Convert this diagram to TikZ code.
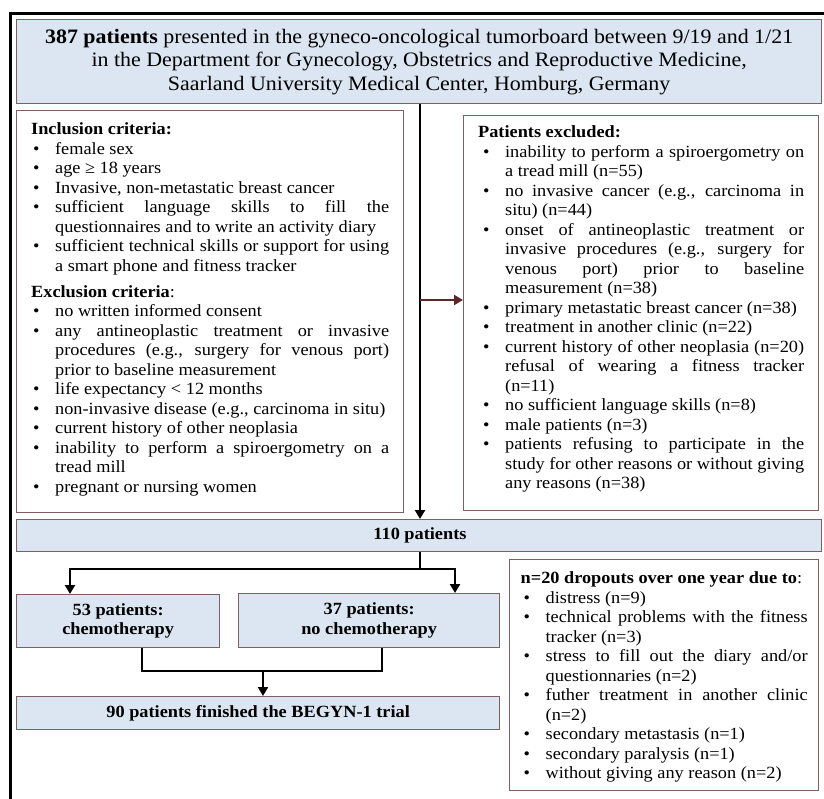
\documentclass[tikz,border=0pt]{standalone}
\usepackage{fontspec}
\setmainfont{Liberation Serif}[FakeStretch=1.07]
\usetikzlibrary{arrows.meta}
\definecolor{boxfill}{HTML}{DCE6F2}
\definecolor{boxline}{RGB}{125,96,96}
\definecolor{exarrow}{RGB}{90,40,40}
\newenvironment{blist}[2]{\begin{list}{\textbullet}{\setlength\leftmargin{#1}\setlength\labelwidth{#1}\setlength\labelsep{0pt}\setlength\itemsep{0pt}\setlength\parsep{0pt}\setlength\topsep{0pt}\setlength\partopsep{0pt}\renewcommand\makelabel[1]{\hspace*{#2}##1\hfill}}}{\end{list}}
\newcommand{\parsetup}{\tolerance=9999\hyphenpenalty=10000\exhyphenpenalty=10000\emergencystretch=30pt}
\begin{document}
\begin{tikzpicture}[x=1pt,y=1pt,
  bluebox/.style={draw=boxline, line width=1.3pt, fill=boxfill, inner sep=0pt, font=\bfseries\fontsize{17.1}{19.5}\selectfont, align=center},
  whitebox/.style={draw=boxline, line width=1.3pt, fill=white, font=\fontsize{17.1}{19.5}\selectfont},
  conn/.style={line width=2.6pt, black},
  arr/.style={conn, -{Triangle[width=10pt,length=9pt]}},
  redarr/.style={line width=2.2pt, exarrow, -{Triangle[width=10pt,length=9pt]}}]
\useasboundingbox (0,0) rectangle (824,-798);
% outer frame (partly cropped)
\draw[line width=3pt] (830,-13.5) -- (10.3,-13.5) -- (10.3,-805);
% title
\node[bluebox, font=\fontsize{20.5}{23.5}\selectfont, minimum width=805pt, minimum height=84pt, anchor=north west] (title) at (16,-19)
 {\textbf{387 patients} presented in the gyneco-oncological tumorboard between 9/19 and 1/21\\
  in the Department for Gynecology, Obstetrics and Reproductive Medicine,\\
  Saarland University Medical Center, Homburg, Germany};
% inclusion / exclusion criteria
\node[whitebox, inner xsep=14.5pt, inner ysep=12pt, anchor=north west] (crit) at (16,-110)
 {\begin{minipage}[t][378pt][t]{358pt}\parsetup
  \textbf{Inclusion criteria:}
  \begin{blist}{24pt}{2pt}
  \item female sex
  \item age ≥ 18 years
  \item Invasive, non-metastatic breast cancer
  \item sufficient language skills to fill the \linebreak questionnaires and to write an activity diary
  \item sufficient technical skills or support for using \linebreak a smart phone and fitness tracker
  \end{blist}
  \vspace{6.5pt}
  \textbf{Exclusion criteria}:
  \begin{blist}{24pt}{2pt}
  \item no written informed consent
  \item any antineoplastic treatment or invasive \linebreak procedures (e.g., surgery for venous port) \linebreak prior to baseline measurement
  \item life expectancy < 12 months
  \item non-invasive disease (e.g., carcinoma in situ)
  \item current history of other neoplasia
  \item inability to perform a spiroergometry on a \linebreak tread mill
  \item pregnant or nursing women
  \end{blist}
  \end{minipage}};
% patients excluded
\node[whitebox, inner xsep=14.5pt, inner ysep=10pt, anchor=north west] (excl) at (463,-115)
 {\begin{minipage}[t][375pt][t]{326pt}\parsetup
  \textbf{Patients excluded:}
  \begin{blist}{27pt}{5pt}
  \item inability to perform a spiroergometry on \linebreak a tread mill (n=55)
  \item no invasive cancer (e.g., carcinoma in \linebreak situ) (n=44)
  \item onset of antineoplastic treatment or \linebreak invasive procedures (e.g., surgery for \linebreak venous port) prior to baseline \linebreak measurement (n=38)
  \item primary metastatic breast cancer (n=38)
  \item treatment in another clinic (n=22)
  \item current history of other neoplasia (n=20) \linebreak refusal of wearing a fitness tracker \linebreak (n=11)
  \item no sufficient language skills (n=8)
  \item male patients (n=3)
  \item patients refusing to participate in the \linebreak study for other reasons or without giving \linebreak any reasons (n=38)
  \end{blist}
  \end{minipage}};
% 110 patients
\node[bluebox, minimum width=805pt, minimum height=32pt, anchor=north west] (tot) at (16,-519) {};
\node[font=\bfseries\fontsize{17.1}{19.5}\selectfont] (totlabel) at (420,-535) {110 patients};
% arms
\node[bluebox, minimum width=203pt, minimum height=53pt, anchor=north west] (chemo) at (16,-594) {53 patients:\\chemotherapy};
\node[bluebox, minimum width=261pt, minimum height=54pt, anchor=north west] (nochemo) at (238,-593) {37 patients:\\no chemotherapy};
% finished
\node[bluebox, minimum width=483pt, minimum height=33pt, anchor=north west] (fin) at (16,-696) {90 patients finished the BEGYN-1 trial};
% dropouts
\node[whitebox, inner xsep=11pt, inner ysep=12pt, anchor=north west] (drop) at (509,-559)
 {\begin{minipage}[t][207pt][t]{287pt}\parsetup
  \textbf{n=20 dropouts over one year due to}:
  \begin{blist}{25pt}{3pt}
  \item distress (n=9)
  \item technical problems with the fitness \linebreak tracker (n=3)
  \item stress to fill out the diary and/or \linebreak questionnaries (n=2)
  \item futher treatment in another clinic \linebreak (n=2)
  \item secondary metastasis (n=1)
  \item secondary paralysis (n=1)
  \item without giving any reason (n=2)
  \end{blist}
  \end{minipage}};
% connectors
\coordinate (mainx) at (420,0);
\coordinate (exy) at (0,-300);
\draw[arr] (title.south -| mainx) -- (tot.north -| mainx);
\draw[redarr] (mainx |- exy) -- (excl.west |- exy);
\coordinate (split) at (420,-569);
\coordinate (splitL) at (70,-569);
\coordinate (splitR) at (455,-569);
\draw[conn] (tot.south -| split) -- (split);
\draw[conn, line cap=rect] (splitL) -- (splitR);
\draw[arr] (splitL) -- (splitL |- chemo.north);
\draw[arr] (splitR) -- (splitR |- nochemo.north);
\coordinate (joinL) at (142,-671);
\coordinate (joinR) at (382,-671);
\coordinate (join) at (263,-671);
\draw[conn, line join=miter] (chemo.south -| joinL) -- (joinL) -- (joinR) -- (nochemo.south -| joinR);
\draw[arr] (join) -- (join |- fin.north);
\end{tikzpicture}
\end{document}
